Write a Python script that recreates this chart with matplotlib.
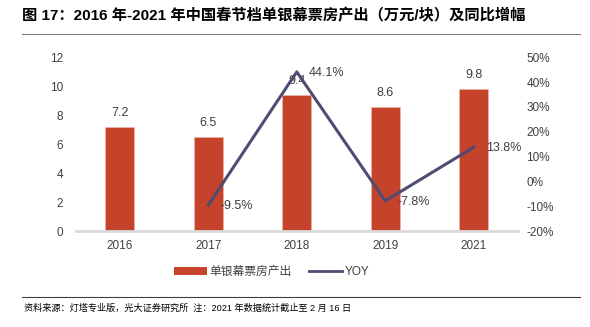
import matplotlib.pyplot as plt
from matplotlib.lines import Line2D
from matplotlib.patches import Patch

plt.rcParams["font.family"] = ["Liberation Sans", "Noto Sans CJK SC", "DejaVu Sans"]

years = ["2016", "2017", "2018", "2019", "2021"]
box_office = [7.2, 6.5, 9.4, 8.6, 9.8]
yoy_years = ["2017", "2018", "2019", "2021"]
yoy = [-9.5, 44.1, -7.8, 13.8]

BAR_COLOR = "#C4432A"
LINE_COLOR = "#4F4B72"
TEXT_COLOR = "#404040"

fig = plt.figure(figsize=(5.9, 3.27), dpi=100)

# header and footer rules
fig.text(0.037, 0.952, "图 17：2016 年-2021 年中国春节档单银幕票房产出（万元/块）及同比增幅",
         fontsize=11, fontweight="bold", color="black", va="center", ha="left")
fig.add_artist(Line2D([0.037, 0.983], [0.897, 0.897], color="#808080", lw=0.8))
fig.add_artist(Line2D([0.037, 0.983], [0.092, 0.092], color="#404040", lw=0.8))
fig.text(0.04, 0.058, "资料来源：灯塔专业版，光大证券研究所  注：2021 年数据统计截止至 2 月 16 日",
         fontsize=6.6, color="black", va="center", ha="left")

ax = fig.add_axes([0.128, 0.293, 0.75, 0.532])
x = list(range(len(years)))
ax.bar(x, box_office, width=0.33, color=BAR_COLOR, edgecolor="#E8B8A8", linewidth=0.5, zorder=2)
for xi, v in zip(x, box_office):
    ax.text(xi, v + 0.55, f"{v:.1f}", ha="center", va="bottom", fontsize=9, color=TEXT_COLOR, zorder=1)

ax.set_xlim(-0.5, len(years) - 0.5)
ax.set_ylim(0, 12)
ax.set_yticks(range(0, 13, 2))
ax.set_xticks(x)
ax.set_xticklabels(years)
ax.tick_params(axis="both", length=0, labelsize=8.5, colors=TEXT_COLOR)
ax.tick_params(axis="x", pad=6)
ax.tick_params(axis="y", pad=9)
for side in ["top", "right", "left"]:
    ax.spines[side].set_visible(False)
ax.spines["bottom"].set_color("#D9D9D9")
ax.spines["bottom"].set_linewidth(2)

ax2 = ax.twinx()
yx = [years.index(y) for y in yoy_years]
ax2.plot(yx, yoy, color=LINE_COLOR, lw=2.2, zorder=3)
for xi, v in zip(yx, yoy):
    ax2.text(xi + 0.14, v - 0.5, f"{v:.1f}%", ha="left", va="center", fontsize=9, color=TEXT_COLOR)
ax2.set_ylim(-20, 50)
ax2.set_yticks(range(-20, 51, 10))
ax2.set_yticklabels([f"{t}%" for t in range(-20, 51, 10)])
ax2.tick_params(axis="y", length=0, labelsize=8.5, colors=TEXT_COLOR, pad=6)
for side in ["top", "right", "left", "bottom"]:
    ax2.spines[side].set_visible(False)

handles = [Patch(facecolor=BAR_COLOR, edgecolor="none"),
           Line2D([0], [0], color=LINE_COLOR, lw=2)]
fig.legend(handles, ["单银幕票房产出", "YOY"], loc="center", bbox_to_anchor=(0.46, 0.168),
           ncol=2, frameon=False, fontsize=8.5, handlelength=2.8, handleheight=0.6,
           handletextpad=0.2, columnspacing=1.5, labelcolor=TEXT_COLOR)

fig.savefig("out.png", dpi=100)
